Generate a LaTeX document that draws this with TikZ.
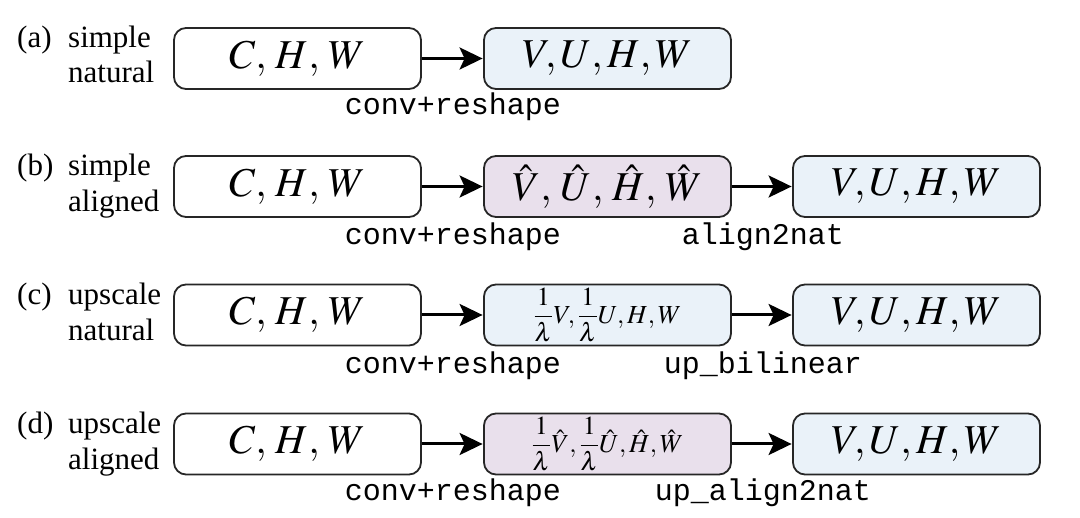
\documentclass[tikz,border=0pt]{standalone}
\usepackage{mathptmx}
\usepackage[no-math]{fontspec}
\setmainfont{Liberation Serif}
\setmonofont{Liberation Mono}
\usetikzlibrary{arrows.meta}
\definecolor{natblue}{RGB}{234,242,249}
\definecolor{alpurple}{RGB}{233,224,236}
\begin{document}
\begin{tikzpicture}[x=1pt,y=-1pt,
  box/.style={draw=black!85, line width=1.8pt, rounded corners=12pt, minimum width=247pt, minimum height=61pt, inner sep=0pt, font=\fontsize{41}{44}\selectfont},
  inbox/.style={box, fill=white},
  bluebox/.style={box, fill=natblue},
  purplebox/.style={box, fill=alpurple},
  smallmath/.style={font=\fontsize{26}{30}\selectfont},
  conn/.style={line width=3pt, -{Stealth[length=23pt,width=22pt,inset=5pt]}, shorten >=0.5pt},
  oplabel/.style={font=\fontsize{30}{32}\ttfamily, inner sep=0pt, anchor=base},
  rowlabel/.style={font=\fontsize{31}{32}\selectfont, inner sep=0pt, anchor=base west}]
\useasboundingbox (0,0) rectangle (1080,518);

% row (a)
\node[rowlabel] (la) at (17,48) {(a)};
\node[rowlabel] (la1) at (68,48) {simple};
\node[rowlabel] (la2) at (68,83) {natural};
\node[inbox] (a1) at (297.5,58.5) {$C,\,H,\,W$};
\node[bluebox] (a2) at (607.5,58.5) {$V,U,H,W$};
\draw[conn] (a1) -- (a2);
\node[oplabel] (oa1) at (453,115) {conv+reshape};

% row (b)
\node[rowlabel] (lb) at (17,176) {(b)};
\node[rowlabel] (lb1) at (68,176) {simple};
\node[rowlabel] (lb2) at (68,212) {aligned};
\node[inbox] (b1) at (297.5,186.5) {$C,\,H,\,W$};
\node[purplebox] (b2) at (607.5,186.5) {$\hat{V},\,\hat{U},\,\hat{H},\,\hat{W}$};
\node[bluebox] (b3) at (916.5,186.5) {$V,U,H,W$};
\draw[conn] (b1) -- (b2);
\draw[conn] (b2) -- (b3);
\node[oplabel] (ob1) at (453,245) {conv+reshape};
\node[oplabel] (ob2) at (763,245) {align2nat};

% row (c)
\node[rowlabel] (lc) at (17,305) {(c)};
\node[rowlabel] (lc1) at (68,305) {upscale};
\node[rowlabel] (lc2) at (68,341) {natural};
\node[inbox] (c1) at (297.5,315) {$C,\,H,\,W$};
\node[bluebox, smallmath] (c2) at (607.5,315) {$\displaystyle\frac{1}{\lambda}V,\frac{1}{\lambda}U,H,W$};
\node[bluebox] (c3) at (916.5,315) {$V,U,H,W$};
\draw[conn] (c1) -- (c2);
\draw[conn] (c2) -- (c3);
\node[oplabel] (oc1) at (453,374) {conv+reshape};
\node[oplabel] (oc2) at (763,374) {up\_bilinear};

% row (d)
\node[rowlabel] (ld) at (17,434) {(d)};
\node[rowlabel] (ld1) at (68,434) {upscale};
\node[rowlabel] (ld2) at (68,470) {aligned};
\node[inbox] (d1) at (297.5,444) {$C,\,H,\,W$};
\node[purplebox, smallmath] (d2) at (607.5,444) {$\displaystyle\frac{1}{\lambda}\hat{V},\frac{1}{\lambda}\hat{U},\hat{H},\hat{W}$};
\node[bluebox] (d3) at (916.5,444) {$V,U,H,W$};
\draw[conn] (d1) -- (d2);
\draw[conn] (d2) -- (d3);
\node[oplabel] (od1) at (453,501) {conv+reshape};
\node[oplabel] (od2) at (763,501) {up\_align2nat};
\end{tikzpicture}
\end{document}
